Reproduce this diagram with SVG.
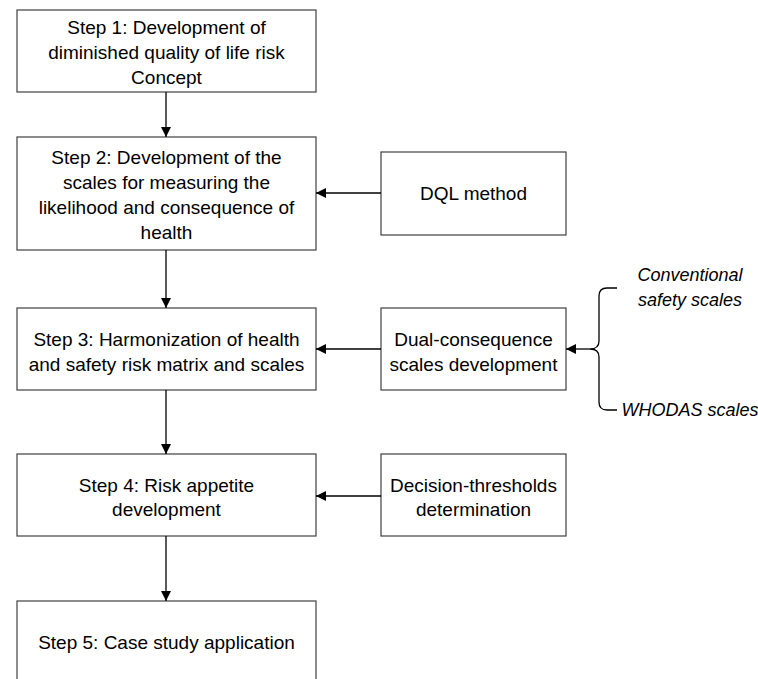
<svg xmlns="http://www.w3.org/2000/svg" width="758" height="679" viewBox="0 0 758 679">
<style>
.box{fill:#fff;stroke:#404040;stroke-width:1.2}
.t{font-family:"Liberation Sans",Arial,sans-serif;font-size:19px;fill:#000;text-anchor:middle}
.i{font-family:"Liberation Sans",Arial,sans-serif;font-size:18px;font-style:italic;fill:#000;text-anchor:middle}
.c{fill:none;stroke:#000;stroke-width:1.3}
</style>
<defs>
<marker id="ah" viewBox="0 0 10 10" refX="10" refY="5" markerWidth="10" markerHeight="10" markerUnits="userSpaceOnUse" orient="auto">
<path d="M0,0 L10,5 L0,10 z" fill="#000"/>
</marker>
</defs>
<rect width="758" height="679" fill="#fff"/>
<g id="step1">
<rect class="box" x="17" y="10" width="299" height="82"/>
<text class="t" x="166.5" y="34">Step 1: Development of</text>
<text class="t" x="166.5" y="59">diminished quality of life risk</text>
<text class="t" x="166.5" y="84">Concept</text>
</g>
<g id="step2">
<rect class="box" x="17" y="137" width="299" height="113"/>
<text class="t" x="166.5" y="164">Step 2: Development of the</text>
<text class="t" x="166.5" y="189">scales for measuring the</text>
<text class="t" x="166.5" y="214">likelihood and consequence of</text>
<text class="t" x="166.5" y="239">health</text>
</g>
<g id="step3">
<rect class="box" x="17" y="308" width="299" height="82"/>
<text class="t" x="166.5" y="346">Step 3: Harmonization of health</text>
<text class="t" x="166.5" y="371">and safety risk matrix and scales</text>
</g>
<g id="step4">
<rect class="box" x="17" y="454" width="299" height="82"/>
<text class="t" x="166.5" y="492">Step 4: Risk appetite</text>
<text class="t" x="166.5" y="516">development</text>
</g>
<g id="step5">
<rect class="box" x="17" y="601" width="299" height="82"/>
<text class="t" x="166.5" y="649">Step 5: Case study application</text>
</g>
<g id="dql">
<rect class="box" x="381" y="152" width="185" height="83"/>
<text class="t" x="473.5" y="200">DQL method</text>
</g>
<g id="dual">
<rect class="box" x="381" y="308" width="185" height="82"/>
<text class="t" x="473.5" y="346">Dual-consequence</text>
<text class="t" x="473.5" y="371">scales development</text>
</g>
<g id="decision">
<rect class="box" x="381" y="454" width="185" height="82"/>
<text class="t" x="473.5" y="492">Decision-thresholds</text>
<text class="t" x="473.5" y="516">determination</text>
</g>
<g id="conventional">
<text class="i" x="690" y="281">Conventional</text>
<text class="i" x="690" y="306">safety scales</text>
</g>
<g id="whodas">
<text class="i" x="690" y="416">WHODAS scales</text>
</g>
<g id="connectors">
<line class="c" x1="166" y1="92" x2="166" y2="137" marker-end="url(#ah)"/>
<line class="c" x1="166" y1="250" x2="166" y2="308" marker-end="url(#ah)"/>
<line class="c" x1="166" y1="390" x2="166" y2="454" marker-end="url(#ah)"/>
<line class="c" x1="166" y1="536" x2="166" y2="601" marker-end="url(#ah)"/>
<line class="c" x1="381" y1="193" x2="316" y2="193" marker-end="url(#ah)"/>
<line class="c" x1="381" y1="349" x2="316" y2="349" marker-end="url(#ah)"/>
<line class="c" x1="381" y1="496" x2="316" y2="496" marker-end="url(#ah)"/>
<line class="c" x1="590" y1="349" x2="566" y2="349" marker-end="url(#ah)"/>
<path class="c" d="M617,288 L607,288 Q599,288 599,296 L599,341 Q599,349 590,349 Q599,349 599,357 L599,402 Q599,410 607,410 L617,410"/>
</g>
</svg>
